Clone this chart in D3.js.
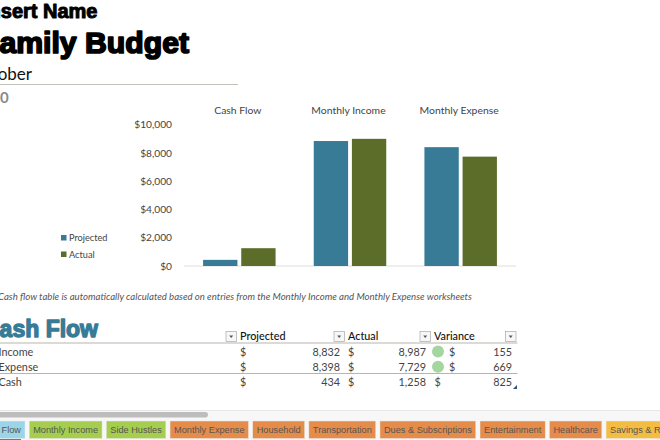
<!DOCTYPE html>
<html lang="en">
<head>
<meta charset="UTF-8">
<title>Family Budget</title>
<script src="https://d3js.org/d3.v7.min.js"></script>
<style>
    html, body { margin: 0; padding: 0; background: #fff; overflow: hidden; }
    svg { display: block; font-family: Lato, sans-serif; }
    .heavy { font-family: "Liberation Sans", sans-serif; font-weight: 700; stroke-linejoin: round; }
</style>
</head>
<body>
<svg id="chart" width="660" height="440"></svg>
<script>
    // chart data
    const categories = ["Cash Flow", "Monthly Income", "Monthly Expense"];
    const projected = [434, 8832, 8398];
    const actual = [1258, 8987, 7729];
    const yTicks = [0, 2000, 4000, 6000, 8000, 10000];
    const seriesNames = ["Projected", "Actual"];
    const seriesColors = ["#377b97", "#5b6d29"];

    // table data
    const tableHeaders = ["Projected", "Actual", "Variance"];
    const rowNames = ["Income", "Expense", "Cash"];
    const rowProjected = [8832, 8398, 434];
    const rowActual = [8987, 7729, 1258];
    const rowVariance = [155, 669, 825];
    const rowHasDot = [true, true, false];

    // sheet tabs
    const tabNames = ["Cash Flow", "Monthly Income", "Side Hustles", "Monthly Expense", "Household", "Transportation", "Dues & Subscriptions", "Entertainment", "Healthcare", "Savings & Retirement"];
    const tabColors = ["#9ad5e8", "#a5cd4e", "#a5cd4e", "#e58c4a", "#e58c4a", "#e58c4a", "#e58c4a", "#e58c4a", "#e58c4a", "#f3bd41"];

    const svg = d3.select("#chart");

    //HEADER
    svg.append("text").attr("class", "heavy").attr("x", -17).attr("y", 18)
        .attr("font-size", 20).attr("stroke", "#000").attr("stroke-width", 1).text("Insert Name");
    svg.append("text").attr("class", "heavy").attr("x", -19).attr("y", 53)
        .attr("font-size", 30.2).attr("stroke", "#000").attr("stroke-width", 1.7).text("Family Budget");
    svg.append("text").attr("x", -30).attr("y", 80).attr("font-size", 17).attr("fill", "#111").text("October");
    svg.append("line").attr("x1", 0).attr("x2", 238).attr("y1", 84.5).attr("y2", 84.5)
        .attr("stroke", "#c4c1bb").attr("stroke-width", 1);
    svg.append("text").attr("x", -26).attr("y", 103).attr("font-size", 15).attr("font-weight", 700)
        .attr("fill", "#8a8a8a").text("2020");

    //CHART
    const x = d3.scaleBand().domain(categories).range([184, 516]).paddingInner(0.345).paddingOuter(0.1725);
    const xInner = d3.scaleBand().domain(seriesNames).range([0, x.bandwidth()]).paddingInner(0.1);
    const y = d3.scaleLinear().domain([0, 10000]).range([266, 124.5]);

    svg.append("g")
        .attr("transform", "translate(184,0)")
        .call(d3.axisLeft(y).tickValues(yTicks).tickSize(0).tickPadding(12).tickFormat(d => "$" + d3.format(",")(d)))
        .call(g => g.select(".domain").remove())
        .call(g => g.selectAll("text").attr("font-family", "Lato, sans-serif").attr("font-size", 10.2).attr("fill", "#444"));

    svg.append("line").attr("x1", 184).attr("x2", 516).attr("y1", y(0)).attr("y2", y(0)).attr("stroke", "#dedede");

    [projected, actual].forEach((values, s) => {
        svg.append("g").selectAll("rect")
            .data(values)
            .enter()
            .append("rect")
            .attr("x", (d, i) => x(categories[i]) + xInner(seriesNames[s]))
            .attr("y", d => y(d))
            .attr("width", xInner.bandwidth())
            .attr("height", d => y(0) - y(d))
            .attr("fill", seriesColors[s]);
    });

    svg.append("g").selectAll("text")
        .data(categories)
        .enter()
        .append("text")
        .attr("x", d => x(d) + x.bandwidth() / 2 - 1.5)
        .attr("y", 113.5)
        .attr("text-anchor", "middle")
        .attr("font-size", 10.4)
        .attr("fill", "#444")
        .text(d => d);

    //LEGEND
    const legend = svg.append("g").selectAll("g")
        .data(seriesNames)
        .enter()
        .append("g")
        .attr("transform", (d, i) => "translate(61," + (238 + i * 16.5) + ")");
    legend.append("rect").attr("y", -3).attr("width", 5.5).attr("height", 5.5).attr("fill", (d, i) => seriesColors[i]);
    legend.append("text").attr("x", 8).attr("y", 3).attr("font-size", 9.2).attr("fill", "#444").text(d => d);

    //NOTE
    svg.append("text").attr("x", -2).attr("y", 300).attr("font-size", 9.6).attr("font-style", "italic").attr("fill", "#555")
        .text("Cash flow table is automatically calculated based on entries from the Monthly Income and Monthly Expense worksheets");

    //TABLE
    svg.append("text").attr("class", "heavy").attr("x", -17).attr("y", 337)
        .attr("font-size", 23).attr("fill", "#377b97").attr("stroke", "#377b97").attr("stroke-width", 1.3).text("Cash Flow");

    const fmt = d3.format(",");
    const rowY = d3.scalePoint().domain(rowNames).range([355.5, 386]);
    const headerX = [240, 348, 434];
    const buttonX = [226, 334, 420, 505.5];

    svg.append("g").selectAll("rect")
        .data(buttonX)
        .enter()
        .append("rect")
        .attr("x", d => d).attr("y", 331.5).attr("width", 10.5).attr("height", 10)
        .attr("fill", "#f7f7f7").attr("stroke", "#a8a8a8").attr("stroke-width", 0.7);
    svg.append("g").selectAll("path")
        .data(buttonX)
        .enter()
        .append("path")
        .attr("d", d => d3.line()([[d + 3.2, 335.6], [d + 7.2, 335.6], [d + 5.2, 338]]))
        .attr("fill", "#555");

    svg.append("g").selectAll("text")
        .data(tableHeaders)
        .enter()
        .append("text")
        .attr("x", (d, i) => headerX[i]).attr("y", 340)
        .attr("font-size", 10.8).attr("font-weight", 500).attr("fill", "#111")
        .text(d => d);

    svg.append("line").attr("x1", 0).attr("x2", 517.5).attr("y1", 343).attr("y2", 343).attr("stroke", "#b9b5ae").attr("stroke-width", 1.2);
    svg.append("line").attr("x1", 0).attr("x2", 517.5).attr("y1", 373.5).attr("y2", 373.5).attr("stroke", "#b9b5ae").attr("stroke-width", 1.2);

    const row = svg.append("g").attr("font-size", 10.8).attr("fill", "#444").selectAll("g")
        .data(rowNames)
        .enter()
        .append("g")
        .attr("transform", d => "translate(0," + rowY(d) + ")");
    row.append("text").attr("x", -1.5).text(d => d);
    row.append("text").attr("x", 240).text("$");
    row.append("text").attr("x", 340).attr("text-anchor", "end").text((d, i) => fmt(rowProjected[i]));
    row.append("text").attr("x", 348).text("$");
    row.append("text").attr("x", 426).attr("text-anchor", "end").text((d, i) => fmt(rowActual[i]));
    row.append("text").attr("x", (d, i) => rowHasDot[i] ? 449 : 434.5).text("$");
    row.append("text").attr("x", 512).attr("text-anchor", "end").text((d, i) => fmt(rowVariance[i]));
    row.filter((d, i) => rowHasDot[i]).append("circle")
        .attr("cx", 438).attr("cy", -4).attr("r", 6).attr("fill", "#a5d6a0");

    svg.append("path").attr("d", "M517 385 L517 389 L513 389 Z").attr("fill", "#27527a");

    //SHEET TABS
    svg.append("rect").attr("x", 0).attr("y", 410).attr("width", 660).attr("height", 30).attr("fill", "#f7f7f7");
    svg.append("line").attr("x1", 0).attr("x2", 660).attr("y1", 410.5).attr("y2", 410.5).attr("stroke", "#e8e8e8");
    svg.append("rect").attr("x", -6).attr("y", 412).attr("width", 214).attr("height", 5.5).attr("rx", 2.7).attr("fill", "#bdbdbd");

    // tabs sit one after the other, wide enough for their label; the first one ends at x=25
    let tabX = 0;
    tabNames.forEach((name, i) => {
        const g = svg.append("g");
        const label = g.append("text").attr("y", 433).attr("font-family", "'Liberation Sans', sans-serif")
            .attr("font-size", 9.2).attr("fill", "#555").text(name);
        const w = label.node().getComputedTextLength() + 8;
        if (i === 0) tabX = 25 - w;
        g.insert("rect", "text").attr("x", tabX).attr("y", 421).attr("width", w).attr("height", 17.5)
            .attr("fill", tabColors[i]).attr("stroke", "#eaeaea").attr("stroke-width", 0.5);
        label.attr("x", tabX + 4);
        tabX += w + 4.2;
    });
    svg.append("line").attr("x1", 0).attr("x2", 21).attr("y1", 439.5).attr("y2", 439.5).attr("stroke", "#777");
</script>
</body>
</html>
